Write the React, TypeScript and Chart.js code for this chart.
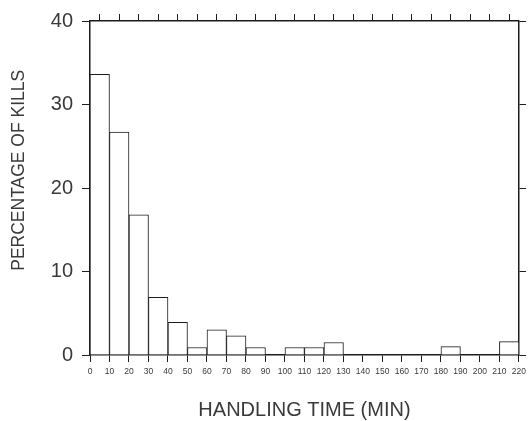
import React, { useEffect, useRef } from "react";
import { Chart, registerables } from "chart.js";

Chart.register(...registerables);

// Histogram bins (minutes): centre of each 10-min bin
const binCenters = [5, 15, 25, 35, 45, 55, 65, 75, 85, 95, 105, 115, 125, 135, 145, 155, 165, 175, 185, 195, 205, 215];
// Percentage of kills per bin
const percentKills = [33.6, 26.7, 16.8, 6.9, 3.9, 0.9, 3.0, 2.3, 0.9, 0, 0.9, 0.9, 1.5, 0, 0, 0, 0, 0, 1.0, 0, 0, 1.6];

const xTickValues = [0, 10, 20, 30, 40, 50, 60, 70, 80, 90, 100, 110, 120, 130, 140, 150, 160, 170, 180, 190, 200, 210, 220];
const xTickLabels = ["0", "10", "20", "30", "40", "50", "60", "70", "80", "90", "100", "110", "120", "130", "140", "150", "160", "170", "180", "190", "200", "210", "220"];
const yTickValues = [0, 10, 20, 30, 40];
const yTickLabels = ["0", "10", "20", "30", "40"];

const xTitle = "HANDLING TIME (MIN)";
const yTitle = "PERCENTAGE OF KILLS";

const lineColor = "#1c1c1c";
const textColor = "#3a3a3a";
const FONT = "'Liberation Sans', Arial, sans-serif";

// Draws the y-axis title slightly above the axis centre, as in the original figure
const yTitlePlugin = {
  id: "yTitlePlugin",
  afterDraw(chart: any) {
    const { ctx, chartArea } = chart;
    const cy = chartArea.top + (chartArea.bottom - chartArea.top) * 0.447;
    ctx.save();
    ctx.translate(19, cy);
    ctx.rotate(-Math.PI / 2);
    ctx.fillStyle = textColor;
    ctx.font = `17.5px ${FONT}`;
    ctx.textAlign = "center";
    ctx.textBaseline = "middle";
    ctx.fillText(yTitle, 0, 0);
    ctx.restore();
  },
};

export default function App() {
  const canvasRef = useRef<HTMLCanvasElement | null>(null);

  useEffect(() => {
    const canvas = canvasRef.current;
    if (!canvas) return;

    const setXTicks = (s: any) => {
      s.ticks = xTickValues.map((v) => ({ value: v }));
    };
    const setYTicks = (s: any) => {
      s.ticks = yTickValues.map((v) => ({ value: v }));
    };

    const chart = new Chart(canvas, {
      type: "bar",
      data: {
        datasets: [
          {
            data: binCenters.map((c, i) => ({ x: c, y: percentKills[i] })),
            backgroundColor: "#ffffff",
            borderColor: lineColor,
            borderWidth: 1,
            borderSkipped: "start",
            barPercentage: 1,
            categoryPercentage: 1,
          } as any,
        ],
      },
      plugins: [yTitlePlugin],
      options: {
        responsive: false,
        animation: false,
        layout: { padding: 0 },
        plugins: {
          legend: { display: false },
          tooltip: { enabled: false },
        },
        scales: {
          x: {
            type: "linear",
            position: "bottom",
            min: 0,
            max: 220,
            offset: false,
            grid: {
              display: true,
              drawOnChartArea: false,
              drawTicks: true,
              tickLength: 7,
              color: lineColor,
              lineWidth: 1,
              offset: false,
            },
            border: { display: true, color: lineColor, width: 1.5 },
            ticks: {
              font: { family: FONT, size: 8.5 },
              color: textColor,
              padding: 5,
              maxRotation: 0,
              minRotation: 0,
              autoSkip: false,
              callback: (_v: any, i: number) => xTickLabels[i],
            },
            afterBuildTicks: setXTicks,
            afterFit: (s: any) => {
              s.height = 66;
            },
            title: {
              display: true,
              text: xTitle,
              color: textColor,
              font: { family: FONT, size: 20, lineHeight: 1 },
              padding: { top: 0, bottom: 1 },
            },
          },
          x2: {
            type: "linear",
            position: "top",
            min: 0,
            max: 220,
            offset: false,
            grid: {
              display: true,
              drawOnChartArea: false,
              drawTicks: true,
              tickLength: 7,
              color: lineColor,
              lineWidth: 1,
            },
            border: { display: true, color: lineColor, width: 1.5 },
            ticks: { display: false },
            afterBuildTicks: setXTicks,
            afterFit: (s: any) => {
              s.height = 18;
            },
          },
          y: {
            type: "linear",
            position: "left",
            min: 0,
            max: 40,
            grid: {
              display: true,
              drawOnChartArea: false,
              drawTicks: true,
              tickLength: 8,
              color: lineColor,
              lineWidth: 1,
            },
            border: { display: true, color: lineColor, width: 1.5 },
            ticks: {
              font: { family: FONT, size: 20 },
              color: textColor,
              padding: 9,
              callback: (_v: any, i: number) => yTickLabels[i],
            },
            afterBuildTicks: setYTicks,
            afterFit: (s: any) => {
              s.width = 90;
            },
          },
          y2: {
            type: "linear",
            position: "right",
            min: 0,
            max: 40,
            grid: {
              display: true,
              drawOnChartArea: false,
              drawTicks: true,
              tickLength: 7,
              color: lineColor,
              lineWidth: 1,
            },
            border: { display: true, color: lineColor, width: 1.5 },
            ticks: { display: false },
            afterBuildTicks: setYTicks,
            afterFit: (s: any) => {
              s.width = 8;
            },
          },
        },
      } as any,
    });

    return () => {
      chart.destroy();
    };
  }, []);

  return (
    <div style={{ position: "absolute", left: 0, top: 0, width: 531, height: 421, background: "#ffffff" }}>
      <canvas ref={canvasRef} width={531} height={421} style={{ display: "block" }} />
    </div>
  );
}
